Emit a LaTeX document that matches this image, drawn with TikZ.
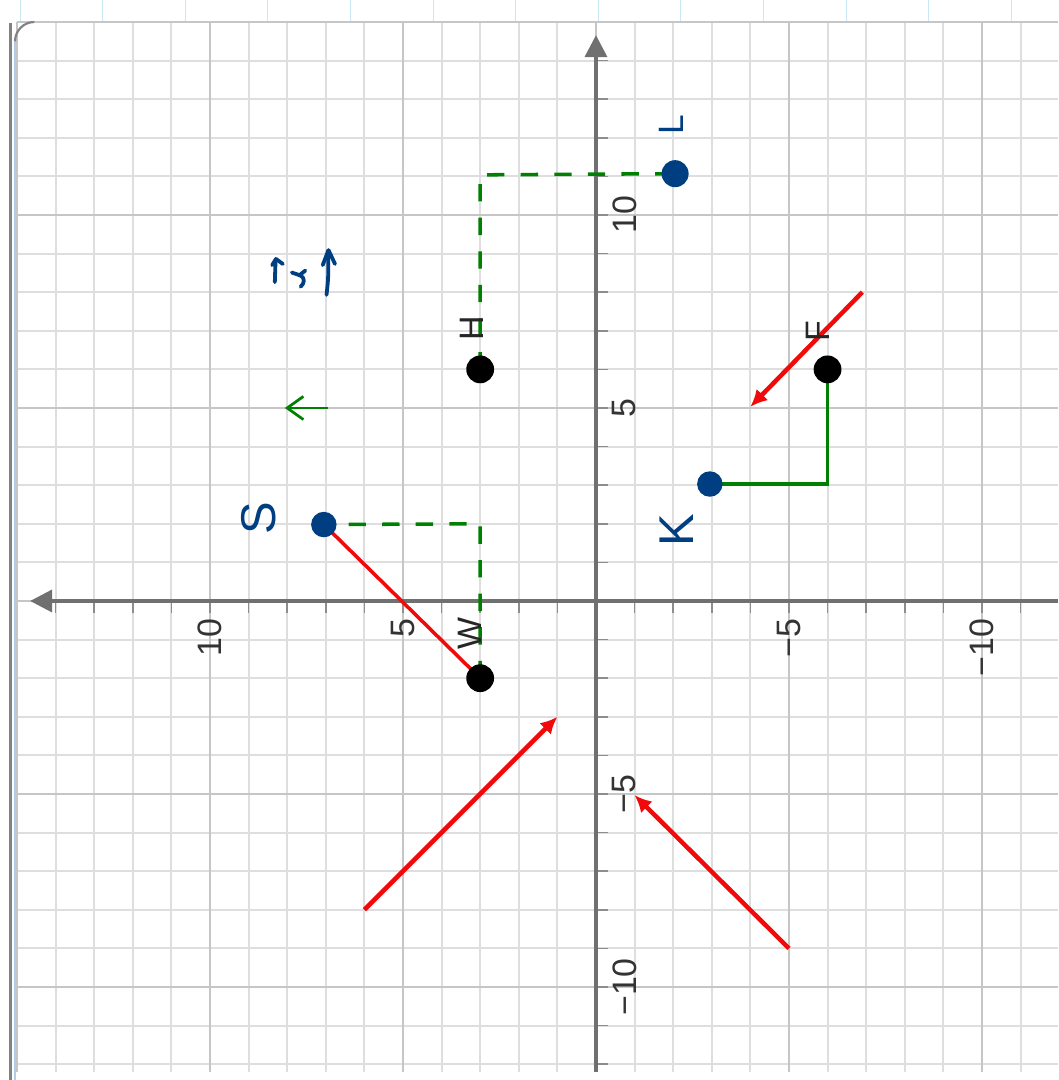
\documentclass[tikz,border=0pt]{standalone}
\usepackage{fontspec}
\setmainfont{Liberation Sans}
\usetikzlibrary{arrows.meta}
\definecolor{gridgray}{RGB}{222,222,222}
\definecolor{majgray}{RGB}{198,198,198}
\definecolor{axisgray}{RGB}{112,112,112}
\definecolor{stripblue}{RGB}{200,232,242}
\definecolor{framegray}{RGB}{130,130,130}
\definecolor{frameblue}{RGB}{175,205,232}
\definecolor{pengreen}{RGB}{0,128,0}
\definecolor{penred}{RGB}{240,10,10}
\definecolor{inkblue}{RGB}{0,62,130}
\tikzset{
  axisline/.style={axisgray,line width=2.6pt,-{Triangle[length=0.57cm,width=0.57cm]}},
  tickmark/.style={axisgray!80,line width=1.2pt},
  ticklabel/.style={rotate=90,inner sep=0pt,text=black!80,font=\fontsize{25}{30}\selectfont},
  ptlabel/.style={rotate=90,inner sep=0pt,text=black!85,font=\fontsize{25}{30}\selectfont},
  handtext/.style={rotate=90,inner sep=0pt,text=inkblue,font=\fontsize{36}{42}\selectfont},
  dot/.style={circle,fill=black,inner sep=0pt,minimum size=0.72cm},
  inkdot/.style={circle,fill=inkblue,inner sep=0pt,minimum size=0.66cm},
  guide/.style={pengreen,line width=2.6pt,dash pattern=on 0.45cm off 0.42cm},
  route/.style={pengreen,line width=2.6pt},
  vec/.style={penred,line width=3.3pt,-{Latex[length=0.44cm,width=0.42cm]}},
  inkstroke/.style={inkblue,line width=2.8pt,line cap=round,line join=round},
}
\begin{document}
\begin{tikzpicture}
  \useasboundingbox (-15.44,-12.41) rectangle (11.97,15.57);
  \fill[white] (-15.44,-12.41) rectangle (11.97,15.57);
  % strip and grid
  \foreach \k in {0,...,12}
    \draw[stripblue,line width=0.8pt] ({-14.92+2.14*\k},15) -- ({-14.92+2.14*\k},15.57);
  \draw[gridgray,line width=1.5pt] (-15,-12.2) grid (11.97,15);
  \draw[majgray,line width=1.5pt,step=5] (-15,-12.2) grid (11.97,15);
  \draw[framegray,line width=2.2pt] (-15.18,-12.41) -- (-15.18,14.98);
  \draw[frameblue,line width=1.6pt] (-15.05,-12.41) -- (-15.05,14.5);
  \draw[framegray,line width=1.6pt] (-15.05,14.5) arc (180:90:0.5);

  % axes
  \coordinate (xend) at (11.97,0);
  \coordinate (xtip) at (-14.66,0);
  \coordinate (yend) at (0,-12.2);
  \coordinate (ytip) at (0,14.66);
  \foreach \t in {-14,...,11}{
    \ifnum\t=0\else\draw[tickmark] (\t,0) -- (\t,-0.3);\fi
  }
  \foreach \t in {-12,...,14}{
    \ifnum\t=0\else\draw[tickmark] (0,\t) -- (0.3,\t);\fi
  }
  \draw[axisline] (xend) -- (xtip);
  \draw[axisline] (yend) -- (ytip);
  \foreach \v/\t in {-10/10,-5/5,5/{−5},10/{−10}}
    \node[ticklabel,anchor=east] (hx\v) at (\v,-0.45) {\t};
  \foreach \v/\t in {10/10,5/5,-5/{−5},-10/{−10}}
    \node[ticklabel,anchor=north] (vy\v) at (0.42,\v) {\t};

  % points
  \coordinate (H) at (-3,6);
  \coordinate (W) at (-3,-2);
  \coordinate (F) at (6,6);
  \coordinate (K) at (2.95,3.03);
  \coordinate (S) at (-7.05,1.98);
  \coordinate (L) at (2.05,11.07);
  \coordinate (HL) at (-3,11.04);
  \coordinate (WS) at (-3,2);
  \coordinate (FK) at (6,3.03);

  \begin{scope}[-]
    \draw[guide] (H) -- (HL) -- (L);
    \draw[guide] (W) -- (WS) -- (S);
    \draw[route] (F) -- (FK) -- (K);
    \draw[penred,line width=2.6pt] (S) -- (W);
  \end{scope}

  % red vectors
  \coordinate (r1a) at (6.9,8);
  \coordinate (r1b) at (4,5.03);
  \coordinate (r2a) at (-6,-8);
  \coordinate (r2b) at (-1,-3);
  \coordinate (r3a) at (5,-9);
  \coordinate (r3b) at (1,-5.03);
  \draw[vec] (r1a) -- (r1b);
  \draw[vec] (r2a) -- (r2b);
  \draw[vec] (r3a) -- (r3b);

  % green hand arrow
  \coordinate (g1a) at (-6.95,5);
  \coordinate (g1b) at (-8.06,5);
  \draw[pengreen,line width=2pt,-{Straight Barb[length=0.42cm,width=0.6cm]}] (g1a) -- (g1b);

  \node[dot] (Hdot) at (H) {};
  \node[dot] (Wdot) at (W) {};
  \node[dot] (Fdot) at (F) {};
  \node[inkdot] (Kdot) at (K) {};
  \node[inkdot] (Sdot) at (S) {};
  \node[inkdot,minimum size=0.7cm] (Ldot) at (L) {};

  \node[ptlabel] (Hlbl) at (-3.21,7.07) {H};
  \node[ptlabel] (Wlbl) at (-3.26,-0.85) {W};
  \node[ptlabel] (Flbl) at (5.75,6.99) {F};

  % handwriting
  \node[handtext] (Stxt) at (-8.73,2.15) {S};
  \node[handtext] (Ktxt) at (2.10,1.84) {K};
  \node[handtext,font=\fontsize{26}{30}\selectfont] (Ltxt) at (1.95,12.33) {L};
  \draw[inkstroke] (-8.32,8.26) -- (-8.3,8.85);
  \draw[inkstroke] (-8.39,8.70) -- (-8.29,8.86) -- (-8.11,8.73);
  \draw[inkstroke] (-7.88,8.51) -- (-7.68,8.44) -- (-7.53,8.56);
  \draw[inkstroke] (-7.68,8.44) .. controls (-7.51,8.37) and (-7.56,8.23) .. (-7.65,8.14);
  \draw[inkstroke] (-6.98,7.93) .. controls (-6.93,8.4) .. (-6.94,9.07);
  \draw[inkstroke] (-7.08,8.70) -- (-6.93,9.09) -- (-6.76,8.73);
\end{tikzpicture}
\end{document}
